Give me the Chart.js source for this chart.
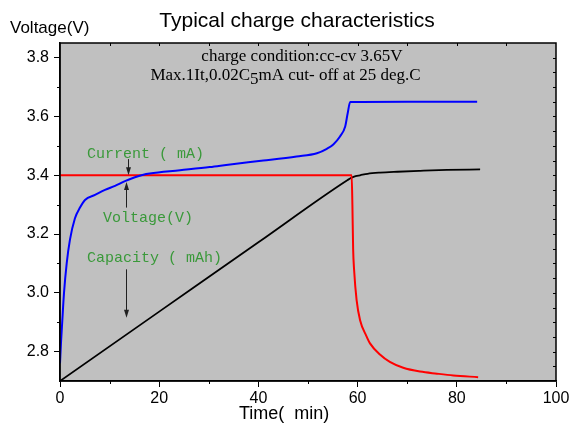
<!DOCTYPE html>
<html>
<head>
<meta charset="utf-8">
<script src="https://cdn.jsdelivr.net/npm/chart.js@4.4.1/dist/chart.umd.min.js"></script>
<style>
  html, body { margin: 0; padding: 0; background: #fff; }
</style>
</head>
<body>
<canvas id="chargeChart" width="572" height="428"></canvas>
<script>
// Values: time (min) and the curve height on the voltage axis
const voltageTime   = [0, 0.2, 0.47, 0.8, 1.35, 2.0, 3.0, 4.03, 5.04, 7.06, 9.07, 11.1, 13.1, 15.1, 16.8, 18.1, 24.2, 30.2, 34.3, 41, 47.7, 51.8, 53.8, 55.1, 56.45, 57.5, 58.0, 58.5, 70, 84.1];
const voltageValues = [2.76, 2.83, 2.907, 2.998, 3.10, 3.18, 3.253, 3.29, 3.316, 3.333, 3.35, 3.364, 3.38, 3.393, 3.402, 3.406, 3.417, 3.428, 3.437, 3.45, 3.464, 3.475, 3.49, 3.505, 3.532, 3.566, 3.611, 3.649, 3.65, 3.65];

const currentTime   = [0, 58.8, 58.95, 59.1, 59.3, 59.8, 60.5, 61.8, 62.5, 64.5, 66.5, 69.2, 72.6, 76, 79.3, 84.3];
const currentValues = [3.4, 3.4, 3.3, 3.15, 3.077, 2.975, 2.907, 2.852, 2.828, 2.79, 2.765, 2.745, 2.732, 2.725, 2.719, 2.713];

const capacityTime   = [0, 20, 40, 58, 58.8, 59.6, 60.5, 62, 64.5, 68, 72.6, 78, 84.7];
const capacityValues = [2.70, 2.936, 3.172, 3.384, 3.392, 3.397, 3.40, 3.405, 3.409, 3.412, 3.415, 3.418, 3.42];

// axis ticks
const xTickValues  = [0, 20, 40, 60, 80, 100];
const xMinorTicks  = [10, 30, 50, 70, 90];
const yTickValues  = [2.8, 3.0, 3.2, 3.4, 3.6, 3.8];
const yMinorTicks  = [2.9, 3.1, 3.3, 3.5, 3.7];

const toPoints = (xs, ys) => xs.map((t, i) => ({ x: t, y: ys[i] }));

// green callouts, placed in data units (time, volts)
const callouts = [
    { text: 'Current ( mA)',   t: 5.44, v: 3.473 },
    { text: 'Voltage(V)',      t: 8.67, v: 3.255 },
    { text: 'Capacity ( mAh)', t: 5.44, v: 3.118 }
];
const arrows = [
    { t: 13.7, from: 3.455, to: 3.40 },
    { t: 13.3, from: 3.29,  to: 3.377 },
    { t: 13.3, from: 3.08,  to: 2.915 }
];

function drawArrow(ctx, x, y0, y1) {
    const dir = y1 > y0 ? 1 : -1;
    ctx.beginPath();
    ctx.moveTo(x, y0);
    ctx.lineTo(x, y1 - dir * 7);
    ctx.stroke();
    ctx.beginPath();
    ctx.moveTo(x, y1);
    ctx.lineTo(x - 2.5, y1 - dir * 8);
    ctx.lineTo(x + 2.5, y1 - dir * 8);
    ctx.closePath();
    ctx.fill();
}

const decorPlugin = {
    id: 'decor',
    beforeDraw(chart) {
        const { ctx, chartArea: a } = chart;
        ctx.save();
        ctx.fillStyle = '#c0c0c0';
        ctx.fillRect(a.left, a.top, a.right - a.left, a.bottom - a.top);
        ctx.restore();
    },
    afterDraw(chart) {
        const { ctx, chartArea: a } = chart;
        const x = chart.scales.x, y = chart.scales.y;
        ctx.save();

        // frame
        ctx.strokeStyle = '#000';
        ctx.lineWidth = 1.5;
        ctx.strokeRect(a.left, a.top, a.right - a.left, a.bottom - a.top);

        // minor outward ticks + inward ticks on top/right
        ctx.lineWidth = 1;
        ctx.beginPath();
        xMinorTicks.forEach(v => {
            const px = Math.round(x.getPixelForValue(v)) + 0.5;
            ctx.moveTo(px, a.bottom); ctx.lineTo(px, a.bottom + 3);
        });
        yMinorTicks.forEach(v => {
            const py = Math.round(y.getPixelForValue(v)) + 0.5;
            ctx.moveTo(a.left, py); ctx.lineTo(a.left - 3, py);
        });
        for (let v = 10; v < 100; v += 10) {
            const px = Math.round(x.getPixelForValue(v)) + 0.5;
            ctx.moveTo(px, a.top); ctx.lineTo(px, a.top + 3);
        }
        for (let i = 1; i < 23; i++) {
            const py = Math.round(y.getPixelForValue(2.7 + i * 0.05)) + 0.5;
            ctx.moveTo(a.right, py); ctx.lineTo(a.right - 3, py);
        }
        ctx.stroke();

        // titles
        ctx.fillStyle = '#000';
        ctx.textBaseline = 'middle';
        ctx.font = '21px "Liberation Sans", Arial, sans-serif';
        ctx.textAlign = 'center';
        ctx.fillText('Typical charge characteristics', 297, 21);
        ctx.font = '17px "Liberation Sans", Arial, sans-serif';
        ctx.textAlign = 'left';
        ctx.fillText('Voltage(V)', 10, 28);
        ctx.font = '18px "Liberation Sans", Arial, sans-serif';
        ctx.fillText('Time(  min)', 239, 414);

        // charge condition note
        ctx.font = '17px "Liberation Serif", "Times New Roman", serif';
        ctx.textAlign = 'center';
        ctx.fillText('charge condition:cc-cv 3.65V', 302, 57);
        ctx.textAlign = 'left';
        const p1 = 'Max.1It,0.02C', p2 = '5', p3 = 'mA cut- off at 25 deg.C';
        const w = ctx.measureText(p1 + p2 + p3).width;
        let cx = 285.5 - w / 2;
        ctx.fillText(p1, cx, 76); cx += ctx.measureText(p1).width;
        ctx.fillText(p2, cx, 80); cx += ctx.measureText(p2).width;
        ctx.fillText(p3, cx, 76);

        // green callouts and arrows
        ctx.font = '15px "Liberation Mono", "Courier New", monospace';
        ctx.fillStyle = '#3a993a';
        callouts.forEach(c => ctx.fillText(c.text, x.getPixelForValue(c.t), y.getPixelForValue(c.v)));
        ctx.strokeStyle = '#202020';
        ctx.fillStyle = '#202020';
        ctx.lineWidth = 1;
        arrows.forEach(ar => {
            const px = Math.round(x.getPixelForValue(ar.t)) + 0.5;
            drawArrow(ctx, px, y.getPixelForValue(ar.from), y.getPixelForValue(ar.to));
        });
        ctx.restore();
    }
};

const tickFont = { family: '"Liberation Sans", Arial, sans-serif', size: 16 };

new Chart(document.getElementById('chargeChart'), {
    type: 'line',
    data: {
        datasets: [
            {
                label: 'Voltage(V)',
                data: toPoints(voltageTime, voltageValues),
                borderColor: '#0000ff',
                borderWidth: 2,
                pointRadius: 0,
                cubicInterpolationMode: 'monotone'
            },
            {
                label: 'Current ( mA)',
                data: toPoints(currentTime, currentValues),
                borderColor: '#ff0000',
                borderWidth: 2,
                pointRadius: 0,
                cubicInterpolationMode: 'monotone'
            },
            {
                label: 'Capacity ( mAh)',
                data: toPoints(capacityTime, capacityValues),
                borderColor: '#000000',
                borderWidth: 1.8,
                pointRadius: 0,
                cubicInterpolationMode: 'monotone'
            }
        ]
    },
    options: {
        responsive: false,
        animation: false,
        layout: { padding: { top: 43, right: 16, bottom: 0, left: 0 } },
        plugins: {
            legend: { display: false },
            tooltip: { enabled: false }
        },
        scales: {
            x: {
                type: 'linear',
                min: 0,
                max: 100,
                afterBuildTicks: s => { s.ticks = xTickValues.map(v => ({ value: v })); },
                afterFit: s => { s.height = 47; },
                ticks: {
                    font: tickFont,
                    color: '#000',
                    padding: 2,
                    maxRotation: 0,
                    autoSkip: false,
                    callback: v => String(v)
                },
                grid: { drawOnChartArea: false, tickLength: 6, tickColor: '#000', tickWidth: 1 },
                border: { color: '#000', width: 1.5 }
            },
            y: {
                type: 'linear',
                min: 2.7,
                max: 3.85,
                afterBuildTicks: s => { s.ticks = yTickValues.map(v => ({ value: v })); },
                afterFit: s => { s.width = 60; },
                ticks: {
                    font: tickFont,
                    color: '#000',
                    padding: 5,
                    autoSkip: false,
                    callback: v => v.toFixed(1)
                },
                grid: { drawOnChartArea: false, tickLength: 6, tickColor: '#000', tickWidth: 1 },
                border: { color: '#000', width: 1.5 }
            }
        }
    },
    plugins: [decorPlugin]
});
</script>
</body>
</html>
